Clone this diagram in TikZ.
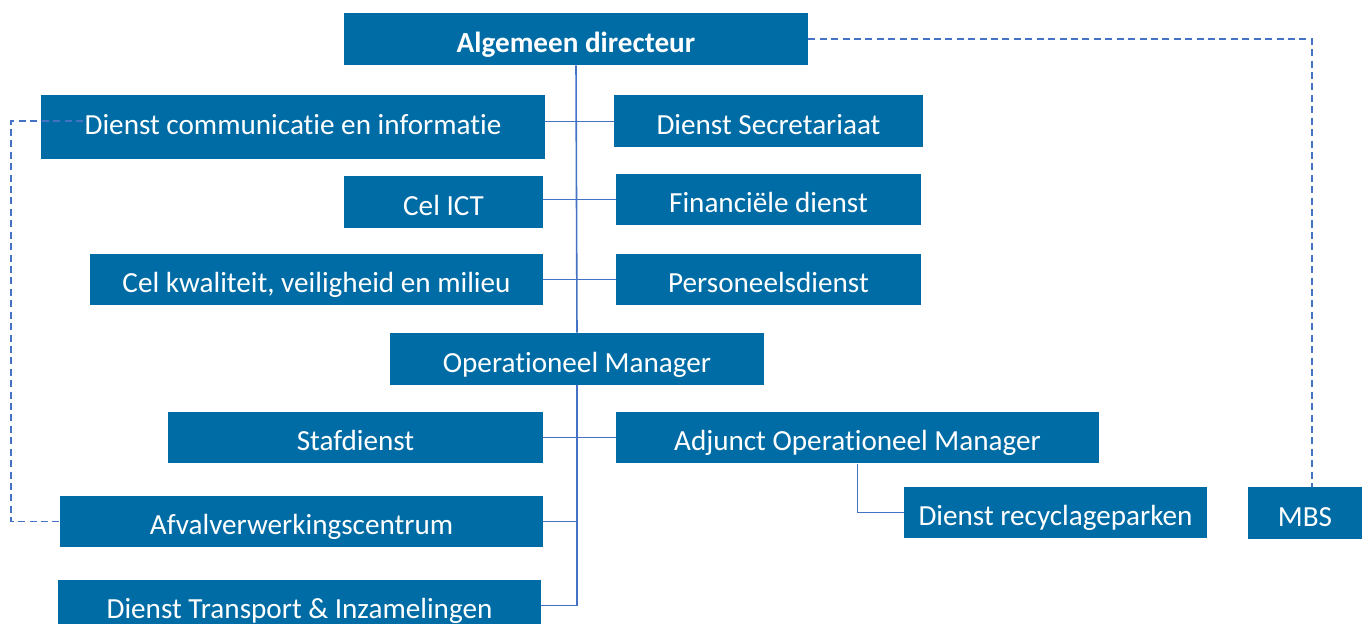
\documentclass[tikz,border=0pt]{standalone}
\usepackage{fontspec}
\setmainfont[Ligatures=NoCommon]{Carlito}
\usepackage{xcolor}
\definecolor{orgblue}{HTML}{006CA5}
\definecolor{linkblue}{HTML}{4472C4}

\begin{document}
\begin{tikzpicture}[x=0.02cm,y=-0.02cm,
            dienst/.style={fill=orgblue,text=white,inner sep=0pt,minimum height=1.04cm,text height=0.54cm,text depth=0pt,font=\fontsize{16.6}{20}\selectfont},
            link/.style={linkblue,line width=0.9pt},
            dashlink/.style={linkblue,line width=0.75pt,dash pattern=on 4pt off 2.5pt}]
            \useasboundingbox (0,0) rectangle (1363,624);

            \node[dienst,minimum width=9.28cm,font=\fontsize{16.6}{20}\selectfont\bfseries] (dir) at (576,39) {Algemeen directeur};
            \node[dienst,minimum width=10.08cm,minimum height=1.28cm,text height=0.32cm] (comm) at (293,127) {Dienst communicatie en informatie};
            \node[dienst,minimum width=6.18cm] (secr) at (768.5,121.5) {Dienst Secretariaat};
            \node[dienst,minimum width=3.98cm] (ict) at (443.5,202) {Cel ICT};
            \node[dienst,minimum width=6.1cm] (fin) at (768.5,199.5) {Financiële dienst};
            \node[dienst,minimum width=9.06cm] (kwal) at (316.5,279.5) {Cel kwaliteit, veiligheid en milieu};
            \node[dienst,minimum width=6.1cm] (pers) at (768.5,279.5) {Personeelsdienst};

            \node[dienst,minimum width=7.48cm] (opm) at (577,359) {Operationeel Manager};
            \node[dienst,minimum width=7.5cm] (staf) at (355.5,437.5) {Stafdienst};
            \node[dienst,minimum width=9.66cm] (adj) at (857.5,437.5) {Adjunct Operationeel Manager};
            \node[dienst,minimum width=9.66cm] (afval) at (301.5,521.5) {Afvalverwerkingscentrum};
            \node[dienst,minimum width=9.66cm] (transp) at (299.5,605.5) {Dienst Transport \& Inzamelingen};
            \node[dienst,minimum width=6.06cm] (recyc) at (1055.5,512.5) {Dienst recyclageparken};
            \node[dienst,minimum width=2.28cm] (mbs) at (1305,513) {MBS};

            % hierarchy lines
            \draw[link] (dir.south) -- (opm.north);
            \draw[link] (opm.south) -- (opm.south |- transp.east) -- (transp.east);
            \draw[link] (comm.east |- secr.west) -- (secr.west);
            \draw[link] (ict.east |- fin.west) -- (fin.west);
            \draw[link] (kwal.east) -- (pers.west);
            \draw[link] (staf.east) -- (adj.west);
            \draw[link] (afval.east) -- (afval.east -| opm.south);
            \draw[link] (adj.south) |- (recyc.west);

            % dashed lines
            \coordinate (commtip) at (83,121);
            \coordinate (leftrail) at (11,121);
            \draw[dashlink] (dir.east) -| ([xshift=4]mbs.north);
            \draw[dashlink] (commtip) -- (leftrail) |- (afval.west);
        \end{tikzpicture}
\end{document}
